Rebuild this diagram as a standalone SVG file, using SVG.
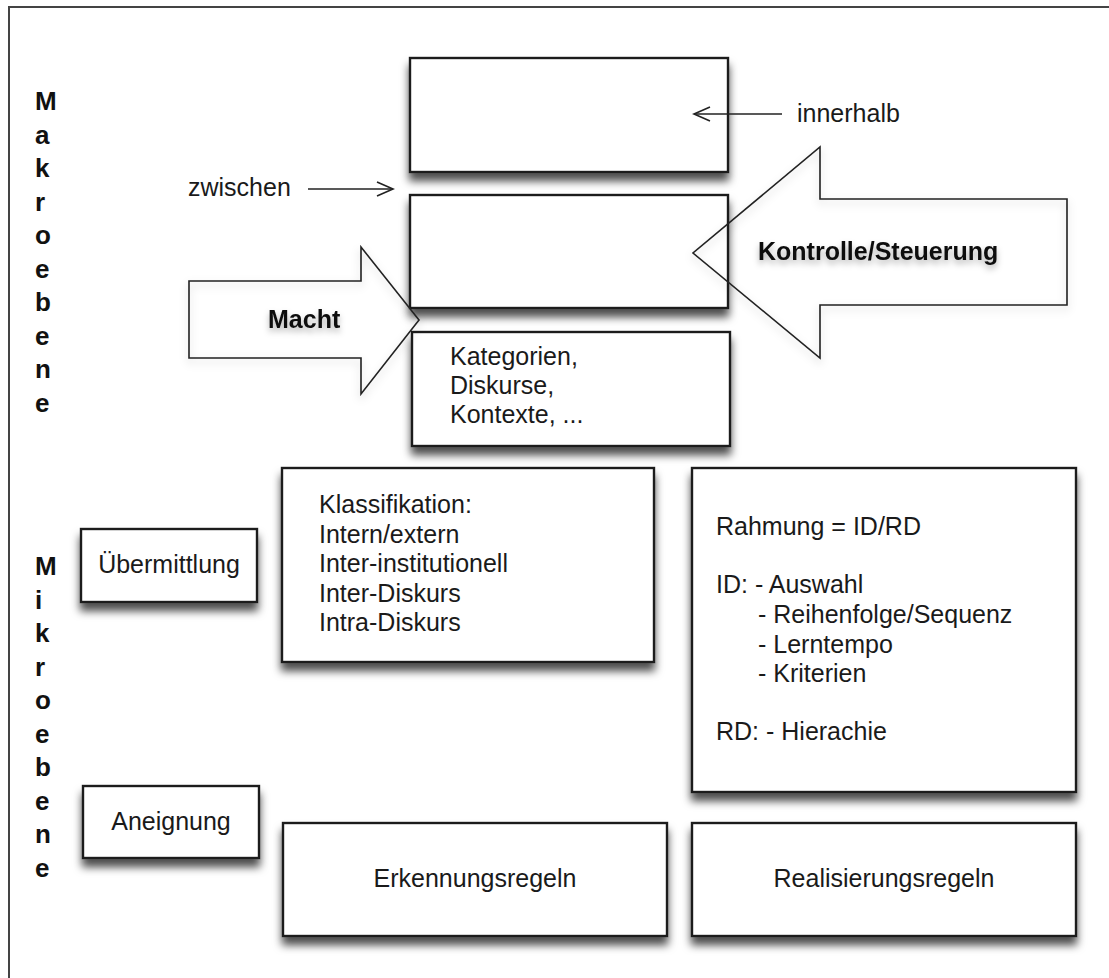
<svg xmlns="http://www.w3.org/2000/svg" width="1109" height="978" viewBox="0 0 1109 978">
  <defs>
    <filter id="boxShadow" x="-10%" y="-10%" width="130%" height="150%">
      <feDropShadow dx="0" dy="8" stdDeviation="4" flood-color="#000" flood-opacity="0.7"/>
    </filter>
    <filter id="softShadow" x="-10%" y="-10%" width="130%" height="140%">
      <feDropShadow dx="0" dy="4" stdDeviation="4" flood-color="#000" flood-opacity="0.2"/>
    </filter>
    <filter id="textShadow" x="-10%" y="-30%" width="130%" height="180%">
      <feDropShadow dx="0" dy="4" stdDeviation="3" flood-color="#000" flood-opacity="0.3"/>
    </filter>
    <marker id="openHead" markerWidth="20" markerHeight="20" refX="17" refY="8" orient="auto" markerUnits="userSpaceOnUse">
      <path d="M1,1 L17,8 L1,15" fill="none" stroke="#222" stroke-width="1.6"/>
    </marker>
  </defs>
  <style>
    .box { fill: #fff; stroke: #1e1e1e; stroke-width: 2.4; filter: url(#boxShadow); }
    .t { font-family: "Liberation Sans", Arial, sans-serif; font-size: 25px; fill: #1a1a1a; }
    .mid { text-anchor: middle; }
    .v { font-family: "Liberation Sans", Arial, sans-serif; font-size: 26px; font-weight: bold; fill: #111; }
    .big { font-family: "Liberation Sans", Arial, sans-serif; font-size: 25px; font-weight: bold; fill: #111; filter: url(#textShadow); }
    .arrow { fill: none; stroke: #222; stroke-width: 1.6; filter: url(#softShadow); }
    .link { fill: none; stroke: #222; stroke-width: 1.6; }
  </style>

  <rect width="1109" height="978" fill="#fff"/>
  <!-- frame -->
  <rect x="9" y="7" width="1200" height="1100" fill="none" stroke="#444" stroke-width="2"/>

  <!-- vertical level labels -->
  <g id="label-makroebene">
    <text class="v" x="35" y="110">M</text>
    <text class="v" x="35" y="143.5">a</text>
    <text class="v" x="35" y="177">k</text>
    <text class="v" x="35" y="210.5">r</text>
    <text class="v" x="35" y="244">o</text>
    <text class="v" x="35" y="277.5">e</text>
    <text class="v" x="35" y="311">b</text>
    <text class="v" x="35" y="344.5">e</text>
    <text class="v" x="35" y="378">n</text>
    <text class="v" x="35" y="411.5">e</text>
  </g>
  <g id="label-mikroebene">
    <text class="v" x="35" y="575">M</text>
    <text class="v" x="35" y="608.5">i</text>
    <text class="v" x="35" y="642">k</text>
    <text class="v" x="35" y="675.5">r</text>
    <text class="v" x="35" y="709">o</text>
    <text class="v" x="35" y="742.5">e</text>
    <text class="v" x="35" y="776">b</text>
    <text class="v" x="35" y="809.5">e</text>
    <text class="v" x="35" y="843">n</text>
    <text class="v" x="35" y="876.5">e</text>
  </g>

  <!-- macro level boxes -->
  <g id="box-top">
    <rect class="box" x="410" y="58" width="318" height="114"/>
  </g>
  <g id="box-middle">
    <rect class="box" x="410" y="195" width="318" height="113"/>
  </g>
  <g id="box-kategorien">
    <rect class="box" x="412" y="332" width="318" height="114"/>
    <text class="t" x="450" y="365">Kategorien,</text>
    <text class="t" x="450" y="394">Diskurse,</text>
    <text class="t" x="450" y="423">Kontexte, ...</text>
  </g>

  <!-- block arrows -->
  <g id="arrow-macht">
    <path class="arrow" d="M189,281 L361,281 L361,247 L419,320 L361,394 L361,358 L189,358 Z"/>
    <text class="big" x="268" y="328">Macht</text>
  </g>
  <g id="arrow-kontrolle">
    <path class="arrow" d="M1067,199 L820,199 L820,147 L693,253 L820,358 L820,305 L1067,305 Z"/>
    <text class="big" x="758" y="260">Kontrolle/Steuerung</text>
  </g>

  <!-- pointer labels -->
  <g id="connectors">
    <line class="link" x1="308" y1="189" x2="393" y2="189" marker-end="url(#openHead)"/>
    <line class="link" x1="782" y1="114" x2="694" y2="114" marker-end="url(#openHead)"/>
  </g>
  <g id="label-zwischen">
    <text class="t" x="188" y="196">zwischen</text>
  </g>
  <g id="label-innerhalb">
    <text class="t" x="797" y="122">innerhalb</text>
  </g>

  <!-- micro level -->
  <g id="box-uebermittlung">
    <rect class="box" x="81" y="529" width="176" height="73"/>
    <text class="t mid" x="169" y="573">Übermittlung</text>
  </g>
  <g id="box-klassifikation">
    <rect class="box" x="282" y="468" width="372" height="194"/>
    <text class="t" x="319" y="513">Klassifikation:</text>
    <text class="t" x="319" y="543">Intern/extern</text>
    <text class="t" x="319" y="572">Inter-institutionell</text>
    <text class="t" x="319" y="602">Inter-Diskurs</text>
    <text class="t" x="319" y="631">Intra-Diskurs</text>
  </g>
  <g id="box-rahmung">
    <rect class="box" x="692" y="468" width="384" height="324"/>
    <text class="t" x="716" y="535">Rahmung = ID/RD</text>
    <text class="t" x="716" y="593">ID: - Auswahl</text>
    <text class="t" x="758" y="623">- Reihenfolge/Sequenz</text>
    <text class="t" x="758" y="653">- Lerntempo</text>
    <text class="t" x="758" y="682">- Kriterien</text>
    <text class="t" x="716" y="740">RD: - Hierachie</text>
  </g>
  <g id="box-aneignung">
    <rect class="box" x="83" y="786" width="176" height="72"/>
    <text class="t mid" x="171" y="830">Aneignung</text>
  </g>
  <g id="box-erkennungsregeln">
    <rect class="box" x="283" y="823" width="384" height="113"/>
    <text class="t mid" x="475" y="887">Erkennungsregeln</text>
  </g>
  <g id="box-realisierungsregeln">
    <rect class="box" x="692" y="823" width="384" height="113"/>
    <text class="t mid" x="884" y="887">Realisierungsregeln</text>
  </g>
</svg>
